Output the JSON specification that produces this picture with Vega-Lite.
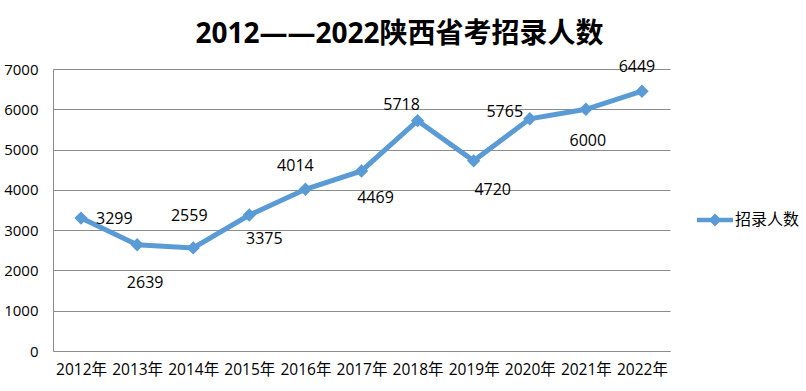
{
  "$schema": "https://vega.github.io/schema/vega-lite/v6.json",
  "width": 617,
  "height": 282,
  "autosize": {"type": "none"},
  "padding": {"left": 53, "top": 69, "right": 136, "bottom": 40},
  "background": "white",
  "title": {
    "text": "2012——2022陕西省考招录人数",
    "font": "Open Sans, Noto Sans CJK SC",
    "fontSize": 28,
    "fontWeight": "bold",
    "color": "#000000",
    "anchor": "middle",
    "frame": "group",
    "dx": 38,
    "offset": 10
  },
  "data": {
    "values": [
      {"year": "2012年", "value": 3299, "series": "招录人数"},
      {"year": "2013年", "value": 2639, "series": "招录人数"},
      {"year": "2014年", "value": 2559, "series": "招录人数"},
      {"year": "2015年", "value": 3375, "series": "招录人数"},
      {"year": "2016年", "value": 4014, "series": "招录人数"},
      {"year": "2017年", "value": 4469, "series": "招录人数"},
      {"year": "2018年", "value": 5718, "series": "招录人数"},
      {"year": "2019年", "value": 4720, "series": "招录人数"},
      {"year": "2020年", "value": 5765, "series": "招录人数"},
      {"year": "2021年", "value": 6000, "series": "招录人数"},
      {"year": "2022年", "value": 6449, "series": "招录人数"}
    ]
  },
  "encoding": {
    "x": {
      "field": "year",
      "type": "ordinal",
      "sort": null,
      "title": null,
      "axis": {
        "labelAngle": 0,
        "ticks": false,
        "domainColor": "#8c8c8c",
        "labelFont": "Open Sans, Noto Sans CJK SC",
        "labelFontSize": 15.5,
        "labelColor": "#000000",
        "labelPadding": 11,
        "grid": false
      }
    },
    "y": {
      "field": "value",
      "type": "quantitative",
      "title": null,
      "scale": {"domain": [0, 7000], "nice": false},
      "axis": {
        "values": [0, 1000, 2000, 3000, 4000, 5000, 6000, 7000],
        "ticks": false,
        "domainColor": "#8c8c8c",
        "gridColor": "#8c8c8c",
        "gridOpacity": 1,
        "labelFont": "Open Sans",
        "labelFontSize": 15,
        "labelColor": "#000000",
        "labelPadding": 15
      }
    }
  },
  "layer": [
    {
      "mark": {"type": "line", "strokeWidth": 5, "color": "#5B9BD5"},
      "encoding": {
        "color": {
          "field": "series",
          "type": "nominal",
          "title": null,
          "scale": {"range": ["#5B9BD5"]},
          "legend": {
            "orient": "none",
            "legendX": 644,
            "legendY": 133,
            "symbolSize": 1296,
            "labelFont": "Noto Sans CJK SC",
            "labelFontSize": 16,
            "labelColor": "#000000",
            "labelOffset": 2,
            "encode": {
              "symbols": {
                "update": {
                  "shape": {"value": "M-1,-0.12L1,-0.12L1,0.12L-1,0.12Z M0,-0.36L0.36,0L0,0.36L-0.36,0Z"},
                  "fill": {"value": "#5B9BD5"},
                  "stroke": {"value": "#5B9BD5"},
                  "strokeWidth": {"value": 0},
                  "opacity": {"value": 1}
                }
              }
            }
          }
        }
      }
    },
    {
      "mark": {"type": "point", "shape": "diamond", "filled": true, "size": 180, "color": "#5B9BD5", "opacity": 1}
    },
    {
      "transform": [{"filter": "datum.year == '2012年'"}],
      "mark": {"type": "text", "align": "left", "baseline": "middle", "dx": 15, "dy": 1, "font": "Open Sans", "fontSize": 16, "color": "#000000"},
      "encoding": {"text": {"field": "value", "type": "quantitative"}}
    },
    {
      "transform": [{"filter": "datum.year == '2013年'"}],
      "mark": {"type": "text", "align": "center", "baseline": "middle", "dx": 8, "dy": 38, "font": "Open Sans", "fontSize": 16, "color": "#000000"},
      "encoding": {"text": {"field": "value", "type": "quantitative"}}
    },
    {
      "transform": [{"filter": "datum.year == '2014年'"}],
      "mark": {"type": "text", "align": "center", "baseline": "middle", "dx": -4, "dy": -32, "font": "Open Sans", "fontSize": 16, "color": "#000000"},
      "encoding": {"text": {"field": "value", "type": "quantitative"}}
    },
    {
      "transform": [{"filter": "datum.year == '2015年'"}],
      "mark": {"type": "text", "align": "center", "baseline": "middle", "dx": 15, "dy": 24, "font": "Open Sans", "fontSize": 16, "color": "#000000"},
      "encoding": {"text": {"field": "value", "type": "quantitative"}}
    },
    {
      "transform": [{"filter": "datum.year == '2016年'"}],
      "mark": {"type": "text", "align": "center", "baseline": "middle", "dx": -10, "dy": -23, "font": "Open Sans", "fontSize": 16, "color": "#000000"},
      "encoding": {"text": {"field": "value", "type": "quantitative"}}
    },
    {
      "transform": [{"filter": "datum.year == '2017年'"}],
      "mark": {"type": "text", "align": "center", "baseline": "middle", "dx": 14, "dy": 27, "font": "Open Sans", "fontSize": 16, "color": "#000000"},
      "encoding": {"text": {"field": "value", "type": "quantitative"}}
    },
    {
      "transform": [{"filter": "datum.year == '2018年'"}],
      "mark": {"type": "text", "align": "center", "baseline": "middle", "dx": -16, "dy": -16, "font": "Open Sans", "fontSize": 16, "color": "#000000"},
      "encoding": {"text": {"field": "value", "type": "quantitative"}}
    },
    {
      "transform": [{"filter": "datum.year == '2019年'"}],
      "mark": {"type": "text", "align": "center", "baseline": "middle", "dx": 19, "dy": 29, "font": "Open Sans", "fontSize": 16, "color": "#000000"},
      "encoding": {"text": {"field": "value", "type": "quantitative"}}
    },
    {
      "transform": [{"filter": "datum.year == '2020年'"}],
      "mark": {"type": "text", "align": "center", "baseline": "middle", "dx": -25, "dy": -7, "font": "Open Sans", "fontSize": 16, "color": "#000000"},
      "encoding": {"text": {"field": "value", "type": "quantitative"}}
    },
    {
      "transform": [{"filter": "datum.year == '2021年'"}],
      "mark": {"type": "text", "align": "center", "baseline": "middle", "dx": 2, "dy": 32, "font": "Open Sans", "fontSize": 16, "color": "#000000"},
      "encoding": {"text": {"field": "value", "type": "quantitative"}}
    },
    {
      "transform": [{"filter": "datum.year == '2022年'"}],
      "mark": {"type": "text", "align": "center", "baseline": "middle", "dx": -5, "dy": -24, "font": "Open Sans", "fontSize": 16, "color": "#000000"},
      "encoding": {"text": {"field": "value", "type": "quantitative"}}
    }
  ],
  "config": {
    "view": {"stroke": null},
    "numberFormat": "d"
  }
}
